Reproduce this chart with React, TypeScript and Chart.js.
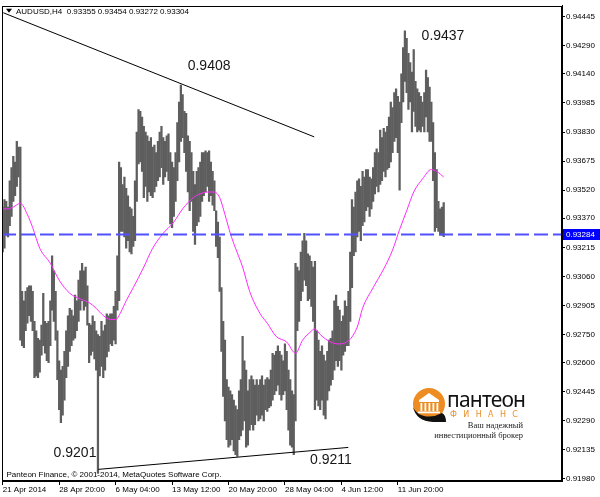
import React, { useEffect, useRef } from "react";
import { Chart, registerables } from "chart.js";

Chart.register(...registerables);

// ---- data ----
const SYMBOL = "AUDUSD,H4";
const lastOHLC = [0.93355, 0.93454, 0.93272, 0.93304];
const currentPrice = 0.93284;

const barHigh = [
  0.9343, 0.9347, 0.9346, 0.9343, 0.9357, 0.9364, 0.937, 0.9367, 0.9378, 0.9375,
  0.9375, 0.9298, 0.9293, 0.9298, 0.93, 0.9301, 0.9301, 0.9298, 0.9282, 0.9277,
  0.9273, 0.9272, 0.928, 0.9297, 0.9282, 0.9281, 0.9282, 0.9293, 0.9317, 0.9309,
  0.9298, 0.9277, 0.9261, 0.9256, 0.9258, 0.9266, 0.9277, 0.9285, 0.9289, 0.9288,
  0.9285, 0.9296, 0.9293, 0.9304, 0.9309, 0.9313, 0.9309, 0.9311, 0.9301, 0.9281,
  0.928, 0.9285, 0.9282, 0.9277, 0.9275, 0.9274, 0.9282, 0.9277, 0.928, 0.9286,
  0.9285, 0.9286, 0.9286, 0.929, 0.9298, 0.9317, 0.9367, 0.9364, 0.9355, 0.9359,
  0.9353, 0.9349, 0.9343, 0.9342, 0.9338, 0.9357, 0.9383, 0.9395, 0.9394, 0.9391,
  0.9386, 0.9383, 0.9381, 0.9378, 0.938, 0.9375, 0.9376, 0.9372, 0.9378, 0.9383,
  0.9386, 0.938, 0.9378, 0.9381, 0.9382, 0.9372, 0.9367, 0.9364, 0.9372, 0.9388,
  0.9399, 0.9408, 0.9403, 0.9394, 0.9393, 0.9381, 0.9378, 0.9372, 0.9362, 0.9355,
  0.9362, 0.9364, 0.9367, 0.9372, 0.9372, 0.9373, 0.9372, 0.9373, 0.9367, 0.9362,
  0.9357, 0.9341, 0.9335, 0.9327, 0.93, 0.9282, 0.9272, 0.9251, 0.9247, 0.9245,
  0.9243, 0.924, 0.9237, 0.9235, 0.9245, 0.9251, 0.9274, 0.9261, 0.9256, 0.9245,
  0.9251, 0.9253, 0.9251, 0.9248, 0.9251, 0.9248, 0.9251, 0.9253, 0.9248, 0.9251,
  0.9252, 0.9251, 0.9256, 0.9265, 0.9264, 0.9266, 0.9269, 0.9266, 0.9264, 0.9261,
  0.927, 0.9266, 0.9256, 0.9251, 0.9245, 0.9243, 0.9313, 0.9311, 0.9309, 0.9319,
  0.9325, 0.9329, 0.9325, 0.9318, 0.9317, 0.9314, 0.9311, 0.9314, 0.9277, 0.9272,
  0.9266, 0.9269, 0.9264, 0.9261, 0.9266, 0.9272, 0.9273, 0.9277, 0.9293, 0.9296,
  0.929, 0.9288, 0.9282, 0.9285, 0.9293, 0.929, 0.9298, 0.9319, 0.9347, 0.9343,
  0.9351, 0.9357, 0.9358, 0.9354, 0.9362, 0.9359, 0.9363, 0.9363, 0.9359, 0.9358,
  0.9364, 0.9372, 0.9374, 0.9372, 0.9384, 0.938, 0.9385, 0.9383, 0.9386, 0.9391,
  0.9399, 0.9396, 0.9404, 0.9406, 0.9402, 0.9399, 0.9414, 0.9428, 0.9437, 0.9433,
  0.9425, 0.942, 0.9415, 0.9427, 0.941, 0.9406, 0.9404, 0.9402, 0.9399, 0.9404,
  0.9416, 0.9412, 0.9407, 0.9399, 0.9388, 0.9372, 0.9363, 0.9346, 0.9342, 0.9343,
  0.93454,
];

const barLow = [
  0.9319, 0.9321, 0.9328, 0.9327, 0.9333, 0.9338, 0.9346, 0.9349, 0.9354, 0.9359,
  0.9272, 0.9269, 0.9268, 0.9277, 0.9281, 0.9285, 0.9282, 0.9277, 0.9252, 0.9253,
  0.9252, 0.9255, 0.9264, 0.9269, 0.9265, 0.9261, 0.926, 0.9269, 0.9288, 0.9282,
  0.9272, 0.9251, 0.9235, 0.9228, 0.9232, 0.924, 0.9252, 0.9258, 0.9266, 0.9269,
  0.9272, 0.9273, 0.9277, 0.9282, 0.9288, 0.9293, 0.9288, 0.929, 0.928, 0.926,
  0.9264, 0.9266, 0.9262, 0.9256, 0.9201, 0.9253, 0.9258, 0.9252, 0.9256, 0.9263,
  0.9266, 0.927, 0.9269, 0.9272, 0.927, 0.9288, 0.9293, 0.933, 0.933, 0.9327,
  0.9321, 0.9325, 0.9319, 0.9318, 0.9322, 0.9325, 0.9346, 0.9366, 0.9367, 0.9362,
  0.9348, 0.9354, 0.9346, 0.9351, 0.9349, 0.9348, 0.9351, 0.9354, 0.9357, 0.9359,
  0.9364, 0.9355, 0.9359, 0.9362, 0.9357, 0.9334, 0.9332, 0.9338, 0.9346, 0.9357,
  0.9367, 0.9378, 0.938, 0.9372, 0.9362, 0.9351, 0.9341, 0.9346, 0.933, 0.9323,
  0.9333, 0.9335, 0.9338, 0.9346, 0.9349, 0.9351, 0.9354, 0.9346, 0.9349, 0.9344,
  0.9341, 0.9322, 0.9316, 0.9298, 0.9266, 0.9242, 0.9229, 0.9219, 0.9215, 0.9216,
  0.9219, 0.9213, 0.9211, 0.921, 0.9219, 0.9221, 0.9224, 0.9229, 0.9215, 0.9216,
  0.9224, 0.9227, 0.9224, 0.9227, 0.9232, 0.9229, 0.923, 0.9232, 0.9229, 0.9235,
  0.9234, 0.9236, 0.9237, 0.924, 0.9243, 0.9245, 0.9248, 0.9243, 0.924, 0.9243,
  0.9245, 0.9235, 0.9224, 0.9216, 0.9215, 0.9211, 0.9229, 0.9277, 0.9282, 0.9293,
  0.9298, 0.9304, 0.9301, 0.9293, 0.9294, 0.929, 0.9282, 0.9235, 0.924, 0.9237,
  0.9235, 0.924, 0.9232, 0.923, 0.924, 0.9245, 0.9248, 0.9251, 0.9256, 0.9261,
  0.9258, 0.9261, 0.9256, 0.9264, 0.9266, 0.9269, 0.9269, 0.9282, 0.93, 0.9317,
  0.9319, 0.9327, 0.933, 0.9325, 0.9333, 0.9335, 0.9341, 0.9343, 0.9338, 0.9342,
  0.9346, 0.935, 0.9354, 0.9351, 0.9355, 0.9357, 0.9362, 0.9359, 0.9363, 0.9364,
  0.9367, 0.9372, 0.9378, 0.938, 0.9372, 0.9352, 0.9388, 0.9399, 0.941, 0.9404,
  0.9395, 0.9399, 0.9383, 0.9394, 0.9386, 0.9383, 0.9384, 0.9383, 0.9386, 0.9383,
  0.9391, 0.9383, 0.9378, 0.9378, 0.9357, 0.933, 0.9332, 0.933, 0.9328, 0.9328,
  0.93272,
];

const maIndex = [
  0, 3, 6, 10, 14, 17, 21, 27, 32, 38, 44, 49, 53, 56, 61, 64, 67, 70, 74, 80,
  85, 91, 97, 102, 108, 112, 116, 120, 123, 126, 129, 132, 136, 140, 146, 150, 155, 161, 166, 170,
  174, 177, 180, 184, 190, 195, 201, 204, 210, 216, 221, 225, 229, 233, 238, 243, 246, 250,
];
const maValue = [
  0.9342, 0.9342, 0.9343, 0.9345, 0.9339, 0.9332, 0.9321, 0.9313, 0.9304, 0.9297,
  0.9294, 0.9292, 0.9289, 0.9286, 0.9283, 0.9283, 0.9287, 0.9293, 0.93, 0.9311,
  0.9321, 0.9329, 0.9335, 0.9342, 0.9348, 0.935, 0.9351, 0.9351, 0.9348, 0.9339,
  0.9329, 0.9321, 0.9311, 0.9298, 0.9286, 0.9281, 0.9274, 0.9271, 0.9265, 0.9272,
  0.9276, 0.9278, 0.9275, 0.9272, 0.927, 0.9271, 0.9279, 0.9289, 0.93, 0.931,
  0.932, 0.9331, 0.9341, 0.9351, 0.9358, 0.9363, 0.9362, 0.9359,
];

const upperTrendIndex = [0.3, 176.6];
const upperTrendPrice = [0.94466, 0.93804];
const lowerTrendIndex = [54.2, 195.9];
const lowerTrendPrice = [0.92031, 0.92148];

const levelTexts = ["0.9408", "0.9437", "0.9201", "0.9211"];
const levelIndex = [117, 249.6, 41, 186.1];
const levelPrice = [0.9418, 0.9434, 0.9212, 0.9208];

const xTickIndex = [0, 32, 64, 96, 128, 160, 192, 224];
const xTickLabels = [
  "21 Apr 2014",
  "28 Apr 20:00",
  "6 May 04:00",
  "13 May 12:00",
  "20 May 20:00",
  "28 May 04:00",
  "4 Jun 12:00",
  "11 Jun 20:00",
];
const yTickValues = [
  0.94445, 0.9429, 0.9414, 0.93985, 0.9383, 0.93675, 0.9352, 0.9337, 0.93215,
  0.9306, 0.92905, 0.9275, 0.926, 0.92445, 0.9229, 0.92135, 0.9198,
];
const copyrightText = "Panteon Finance, © 2001-2014, MetaQuotes Software Corp.";

const FONT = '"Liberation Sans", Arial, sans-serif';

export default function App() {
  const ref = useRef<HTMLCanvasElement | null>(null);

  useEffect(() => {
    document.body.style.margin = "0";
    const canvas = ref.current;
    if (!canvas) return;

    const bars = barHigh.map((h, i) => ({ x: i, y: [barLow[i], h] }));
    const ma = maIndex.map((x, k) => ({ x, y: maValue[k] }));
    const up = upperTrendIndex.map((x, k) => ({ x, y: upperTrendPrice[k] }));
    const lo = lowerTrendIndex.map((x, k) => ({ x, y: lowerTrendPrice[k] }));
    const xMin = -0.397;
    const xMax = 317.06;
    const cur = [
      { x: xMin, y: currentPrice },
      { x: xMax, y: currentPrice },
    ];

    const overlay = {
      id: "overlay",
      afterDraw(chart: any) {
        const { ctx, chartArea: a, scales } = chart;
        const xs = scales.x;
        const ys = scales.y;
        ctx.save();
        // frame
        ctx.strokeStyle = "#000";
        ctx.lineWidth = 1;
        ctx.strokeRect(
          Math.round(a.left) + 0.5,
          Math.round(a.top) + 0.5,
          Math.round(a.right - a.left) - 1,
          Math.round(a.bottom - a.top) - 1
        );
        // title
        ctx.fillStyle = "#000";
        ctx.beginPath();
        ctx.moveTo(a.left + 4, a.top + 3);
        ctx.lineTo(a.left + 10, a.top + 3);
        ctx.lineTo(a.left + 7, a.top + 7);
        ctx.closePath();
        ctx.fill();
        ctx.font = "8px " + FONT;
        ctx.textBaseline = "middle";
        ctx.textAlign = "left";
        ctx.fillText(
          SYMBOL + "  " + lastOHLC.map((v) => v.toFixed(5)).join(" "),
          a.left + 14,
          a.top + 5.5
        );
        // copyright
        ctx.fillText(copyrightText, a.left + 4.5, a.bottom - 6);
        // level labels
        ctx.font = "14px " + FONT;
        ctx.fillStyle = "#161616";
        ctx.textAlign = "center";
        levelTexts.forEach((t, k) => {
          ctx.fillText(t, xs.getPixelForValue(levelIndex[k]), ys.getPixelForValue(levelPrice[k]));
        });
        // current price box
        const py = Math.round(ys.getPixelForValue(currentPrice));
        ctx.fillStyle = "#0000ff";
        ctx.fillRect(a.right + 1, py - 5, 38, 11);
        ctx.fillStyle = "#fff";
        ctx.font = "8px " + FONT;
        ctx.textAlign = "left";
        ctx.fillText(currentPrice.toFixed(5), a.right + 4, py + 0.5);
        ctx.restore();
      },
    };

    const chart = new Chart(canvas, {
      type: "bar",
      data: {
        datasets: [
          {
            type: "bar",
            data: bars as any,
            backgroundColor: "#5e5e5e",
            barThickness: 1.6,
            borderWidth: 0,
            order: 5,
          } as any,
          {
            type: "line",
            data: ma as any,
            borderColor: "#ff2bff",
            borderWidth: 1,
            pointRadius: 0,
            cubicInterpolationMode: "monotone",
            order: 2,
          },
          {
            type: "line",
            data: up as any,
            borderColor: "#000",
            borderWidth: 1,
            pointRadius: 0,
            order: 1,
          },
          {
            type: "line",
            data: lo as any,
            borderColor: "#000",
            borderWidth: 1,
            pointRadius: 0,
            order: 1,
          },
          {
            type: "line",
            data: cur as any,
            borderColor: "#5050ff",
            borderWidth: 2,
            borderDash: [14, 5],
            pointRadius: 0,
            order: 1,
          },
        ],
      },
      options: {
        animation: false,
        responsive: false,
        events: [],
        layout: { padding: { left: 2, top: 3, right: 0, bottom: 0 } },
        plugins: { legend: { display: false }, tooltip: { enabled: false } },
        scales: {
          x: {
            type: "linear",
            position: "bottom",
            offset: false,
            min: xMin,
            max: xMax,
            afterBuildTicks: (s: any) => {
              s.ticks = xTickIndex.map((v) => ({ value: v }));
            },
            afterFit: (s: any) => {
              s.height = 16;
            },
            ticks: {
              autoSkip: false,
              maxRotation: 0,
              minRotation: 0,
              align: "start",
              padding: 0,
              color: "#000",
              font: { family: FONT, size: 8 },
              callback: (v: any) => {
                const k = xTickIndex.indexOf(Number(v));
                return k >= 0 ? xTickLabels[k] : "";
              },
            },
            grid: { drawOnChartArea: false, offset: false, tickLength: 4, color: "#000" },
            border: { display: true, color: "#000" },
          },
          y: {
            type: "linear",
            position: "right",
            min: 0.91969,
            max: 0.94503,
            afterBuildTicks: (s: any) => {
              s.ticks = yTickValues.map((v) => ({ value: v }));
            },
            afterFit: (s: any) => {
              s.width = 38;
            },
            ticks: {
              autoSkip: false,
              padding: 1,
              color: "#000",
              font: { family: FONT, size: 8 },
              callback: (v: any) => Number(v).toFixed(5),
            },
            grid: { drawOnChartArea: false, tickLength: 3, color: "#000" },
            border: { display: true, color: "#000" },
          },
        },
      } as any,
      plugins: [overlay],
    });
    return () => chart.destroy();
  }, []);

  return (
    <div style={{ position: "relative", width: 600, height: 497, background: "#fff" }}>
      <canvas ref={ref} width={600} height={497} style={{ display: "block" }} />
      <div style={{ position: "absolute", left: 411, top: 387, width: 114, height: 56 }}>
        <svg width={36} height={36} viewBox="0 0 36 36" style={{ position: "absolute", left: 0, top: 0 }}>
          <circle cx={18} cy={17} r={16} fill="#ec8c22" />
          <polygon points="8,13 18,6 28,13" fill="#fff" />
          <rect x={8} y={13} width={20} height={2} fill="#fff" />
          <rect x={9.5} y={16} width={1.8} height={8} fill="#fff" />
          <rect x={13.5} y={16} width={1.8} height={8} fill="#fff" />
          <rect x={17.5} y={16} width={1.8} height={8} fill="#fff" />
          <rect x={21.5} y={16} width={1.8} height={8} fill="#fff" />
          <rect x={25.5} y={16} width={1.8} height={8} fill="#fff" />
          <rect x={7} y={24.5} width={22} height={1.8} fill="#fff" />
          <path d="M2 20 Q 5 34 22 35 L 35 35 Q 35 28 31 26 Q 22 31 13 29 Q 5 27 2 20 Z" fill="#111" />
        </svg>
        <div
          style={{
            position: "absolute",
            left: 36,
            top: -2,
            fontFamily: '"Noto Sans", sans-serif',
            fontSize: 21,
            letterSpacing: -0.8,
            color: "#111",
            whiteSpace: "nowrap",
          }}
        >
          пантеон
        </div>
        <div
          style={{
            position: "absolute",
            left: 39,
            top: 23,
            fontFamily: '"DejaVu Sans", sans-serif',
            fontSize: 8,
            letterSpacing: 6.4,
            color: "#e8902a",
            whiteSpace: "nowrap",
          }}
        >
          ФИНАНС
        </div>
        <div
          style={{
            position: "absolute",
            right: 2,
            top: 33,
            fontFamily: '"Liberation Serif", serif',
            fontSize: 8.5,
            color: "#222",
            whiteSpace: "nowrap",
            textAlign: "right",
            lineHeight: "10px",
          }}
        >
          Ваш надежный
          <br />
          инвестиционный брокер
        </div>
      </div>
    </div>
  );
}
